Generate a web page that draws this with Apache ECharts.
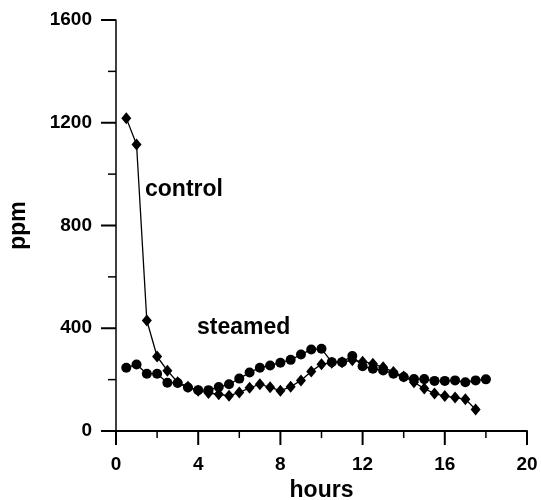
<!DOCTYPE html>
<html>
<head>
<meta charset="utf-8">
<script src="https://cdn.jsdelivr.net/npm/echarts@6/dist/echarts.min.js"></script>
<style>
  html, body { margin: 0; padding: 0; background: #fff; }
  #chart { width: 541px; height: 500px; }
</style>
</head>
<body>
<div id="chart"></div>
<script>
// Sampling times (hours)
const controlHours = [0.5, 1, 1.5, 2, 2.5, 3, 3.5, 4, 4.5, 5, 5.5, 6, 6.5, 7, 7.5, 8, 8.5, 9, 9.5, 10,
  10.5, 11, 11.5, 12, 12.5, 13, 13.5, 14, 14.5, 15, 15.5, 16, 16.5, 17, 17.5];
const steamedHours = [0.5, 1, 1.5, 2, 2.5, 3, 3.5, 4, 4.5, 5, 5.5, 6, 6.5, 7, 7.5, 8, 8.5, 9, 9.5, 10,
  10.5, 11, 11.5, 12, 12.5, 13, 13.5, 14, 14.5, 15, 15.5, 16, 16.5, 17, 17.5, 18];

// Concentrations (ppm)
const controlPpm = [1218, 1115, 430, 290, 235, 190, 172, 157, 148, 143, 137, 150, 168, 182, 170, 157,
  172, 197, 232, 260, 266, 268, 275, 270, 262, 248, 230, 212, 190, 165, 146, 136, 130, 124, 84];
const steamedPpm = [246, 259, 223, 223, 188, 187, 169, 159, 159, 171, 182, 204, 228, 246, 255, 266,
  277, 298, 317, 320, 268, 268, 292, 252, 242, 236, 223, 210, 202, 202, 195, 195, 197, 190, 197, 201];

// Axis ticks
const xTicks = [0, 4, 8, 12, 16, 20];
const xMinorTicks = [2, 6, 10, 14, 18];
const yTicks = [0, 400, 800, 1200, 1600];
const yMinorTicks = [200, 600, 1000, 1400];

const FONT = "'Liberation Sans', Arial, Helvetica, sans-serif";

const pair = (xs, ys) => xs.map((x, i) => [x, ys[i]]);

const chart = echarts.init(document.getElementById('chart'));

function axisStyle(lineWidth) {
  return {
    axisLine: { show: true, lineStyle: { color: '#000', width: lineWidth } },
    axisTick: { show: false },
    minorTick: { show: false },
    splitLine: { show: false },
    nameTextStyle: { color: '#000', fontFamily: FONT, fontWeight: 'bold', fontSize: 23 }
  };
}

const labelStyle = { color: '#000', fontFamily: FONT, fontWeight: 'bold', fontSize: 19,
  formatter: v => String(v) };

// Outward tick marks as a custom series: each item is [x, y, length, width, direction]
// direction 0 = hang below the x axis, 1 = stick out left of the y axis
const tickItems = []
  .concat(xTicks.map(v => [v, yTicks[0], 14, 2, 0]))
  .concat(xMinorTicks.map(v => [v, yTicks[0], 7, 1.5, 0]))
  .concat(yTicks.map(v => [xTicks[0], v, 15, 2, 1]))
  .concat(yMinorTicks.map(v => [xTicks[0], v, 8, 1.5, 1]));

function renderTick(params, api) {
  const p = api.coord([api.value(0), api.value(1)]);
  const len = api.value(2);
  const w = api.value(3);
  const horizontal = api.value(4) === 1;
  return {
    type: 'line',
    shape: horizontal
      ? { x1: p[0] - len, y1: p[1], x2: p[0], y2: p[1] }
      : { x1: p[0], y1: p[1], x2: p[0], y2: p[1] + len },
    style: { stroke: '#000', lineWidth: w }
  };
}

chart.setOption({
  animation: false,
  backgroundColor: '#fff',
  grid: { left: 116, right: 14, top: 20, bottom: 69, containLabel: false, outerBoundsMode: 'none' },
  xAxis: Object.assign(axisStyle(2), {
    type: 'value',
    min: xTicks[0],
    max: xTicks[xTicks.length - 1],
    interval: xTicks[1] - xTicks[0],
    name: 'hours',
    nameLocation: 'middle',
    nameGap: 45,
    axisLabel: Object.assign({ margin: 24 }, labelStyle)
  }),
  yAxis: Object.assign(axisStyle(1.5), {
    type: 'value',
    min: yTicks[0],
    max: yTicks[yTicks.length - 1],
    interval: yTicks[1] - yTicks[0],
    name: 'ppm',
    nameLocation: 'middle',
    nameGap: 86,
    axisLabel: Object.assign({ margin: 24 }, labelStyle)
  }),
  series: [
    {
      name: 'control',
      type: 'line',
      data: pair(controlHours, controlPpm),
      symbol: 'diamond',
      symbolSize: [10, 12],
      showAllSymbol: true,
      itemStyle: { color: '#000', borderWidth: 0 },
      lineStyle: { color: '#000', width: 1.3 },
      z: 3
    },
    {
      name: 'steamed',
      type: 'line',
      data: pair(steamedHours, steamedPpm),
      symbol: 'circle',
      symbolSize: 10,
      showAllSymbol: true,
      itemStyle: { color: '#000', borderWidth: 0 },
      lineStyle: { color: '#000', width: 1.3 },
      z: 2
    },
    {
      name: 'ticks',
      type: 'custom',
      coordinateSystem: 'cartesian2d',
      data: tickItems,
      dimensions: ['x', 'y', 'len', 'w', 'dir'],
      encode: { x: 0, y: 1 },
      renderItem: renderTick,
      clip: false,
      silent: true,
      z: 10
    }
  ],
  graphic: [
    {
      type: 'text',
      left: 145, top: 178,
      style: { text: 'control', fill: '#000', font: 'bold 23px ' + FONT }
    },
    {
      type: 'text',
      left: 197, top: 316,
      style: { text: 'steamed', fill: '#000', font: 'bold 23px ' + FONT }
    }
  ]
});
</script>
</body>
</html>
